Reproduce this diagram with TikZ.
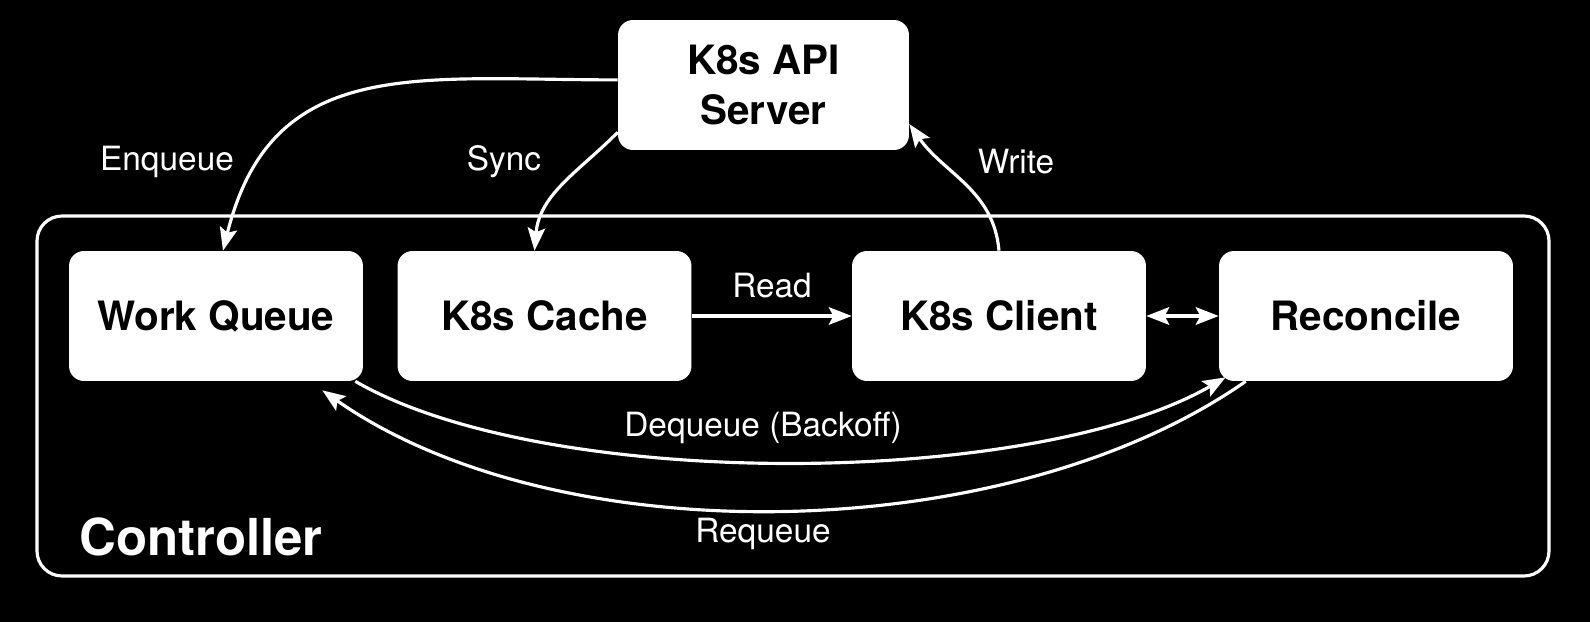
\documentclass[tikz,border=0pt]{standalone}
\usepackage{fontspec}
\setmainfont{TeX Gyre Heros}
\usetikzlibrary{arrows.meta,calc}

\tikzset{
    >={Stealth[length=13pt,width=10pt,inset=2.5pt]},
    box/.style={fill=white, text=black, rounded corners=0.3cm, minimum width=5.88cm,
        minimum height=2.6cm, align=center, font=\bfseries\fontsize{23}{28}\selectfont},
    lbl/.style={text=white, inner sep=0pt, font=\fontsize{19}{22}\selectfont},
    flow/.style={white, line width=1.8pt, ->},
}

\begin{document}
\begin{tikzpicture}[x=0.02cm, y=0.02cm]
    % background
    \fill[black] (0,0) rectangle (1590,622);
    \useasboundingbox (0,0) rectangle (1590,622);

    % controller frame
    \draw[white, line width=1.8pt, rounded corners=0.5cm] (37,46) rectangle (1549,406);
    \node[text=white, anchor=west, inner sep=0pt, font=\bfseries\fontsize{29}{34}\selectfont] (ctrl) at (79,85) {Controller};

    \node[box, minimum width=5.82cm] (api) at (763.5,537) {K8s API\\Server};
    \node[box] (queue) at (216,306) {Work Queue};
    \node[box] (cache) at (544.5,306) {K8s Cache};
    \node[box] (client) at (999,306) {K8s Client};
    \node[box] (recon) at (1366,306) {Reconcile};

    % api server <-> controller
    \draw[flow] (api.178) to[out=180, in=76, looseness=1.2] ($(queue.north)+(7,0)$);
    \draw[flow] (api.198) to[out=225, in=85] ($(cache.north)+(-10,0)$);
    \draw[flow] (client.north) to[out=95, in=-55] (api.-15);

    % inside the controller
    \draw[flow] (cache.east) -- (client.west);
    \draw[flow, <->] (client.east) -- (recon.west);
    \draw[flow] ($(queue.south east)+(-8,0)$) to[out=-30, in=-150, looseness=0.65] ($(recon.south west)+(7,4)$);
    \draw[flow] ($(recon.south west)+(27,0)$) to[out=-145, in=-35, looseness=0.8] ($(queue.south east)+(-41,-9)$);

    \node[lbl] (enq) at (167,460) {Enqueue};
    \node[lbl] (sync) at (504,460) {Sync};
    \node[lbl] (write) at (1016,460) {Write};
    \node[lbl] (read) at (772,336) {Read};
    \node[lbl] (deq) at (763,194) {Dequeue (Backoff)};
    \node[lbl] (req) at (763,88) {Requeue};
\end{tikzpicture}
\end{document}
